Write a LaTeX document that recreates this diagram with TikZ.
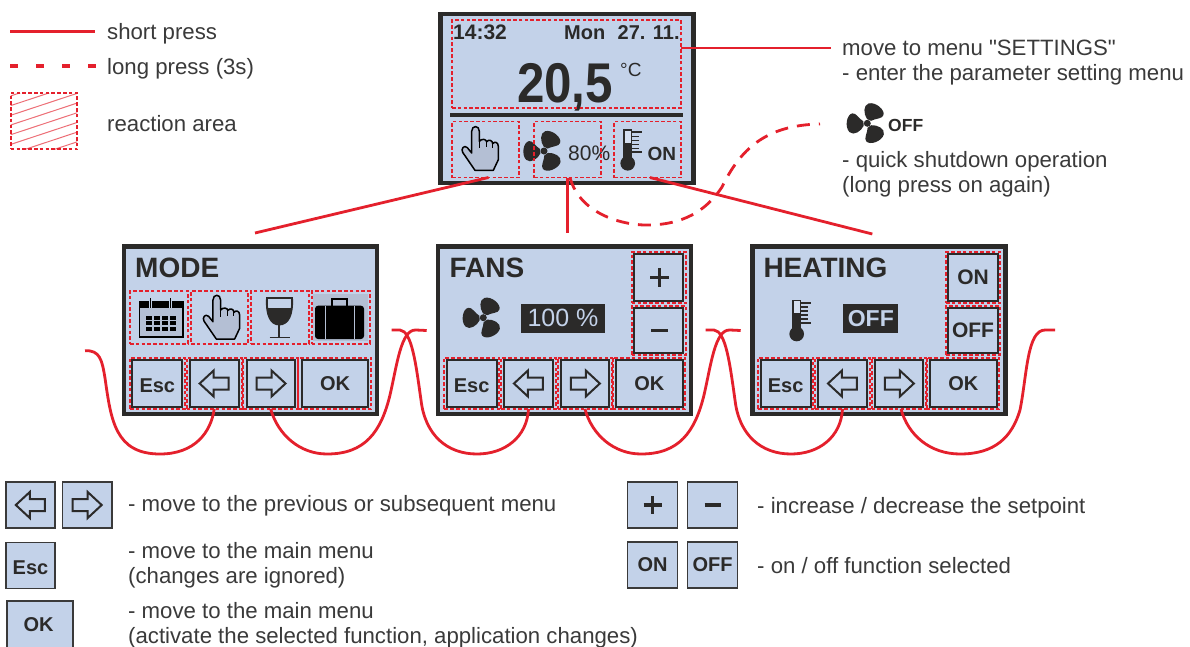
\documentclass[tikz,border=0pt]{standalone}
\usepackage{fontspec}
\setmainfont{Liberation Sans}[Ligatures=TeXOff]
\definecolor{scr}{HTML}{C3D2E9}
\definecolor{drk}{HTML}{2B2A29}
\definecolor{rd}{HTML}{E4202C}
\definecolor{txt}{HTML}{3A3A3A}
\definecolor{hnd}{HTML}{B4BFD4}
\newcommand\fsz[1]{\fontsize{#1}{#1}\selectfont}
\tikzset{
  screenbox/.style={draw=drk,fill=scr,line width=4.5pt,inner sep=0,outer sep=0},
  rarea/.style={draw=rd,line width=1.8pt,dash pattern=on 3.6pt off 2.2pt,inner sep=0,outer sep=0},
  btnbox/.style={draw=drk,fill=scr,line width=2pt,inner sep=0,outer sep=0,text=drk,font=\bfseries\fsz{20}},
  lgbtn/.style={draw=txt,fill=scr,line width=1.6pt,inner sep=0,outer sep=0,text=drk,font=\bfseries\fsz{20}},
  rline/.style={draw=rd,line width=2.8pt},
  rdash/.style={draw=rd,line width=2.8pt,dash pattern=on 13pt off 9pt},
  lbl/.style={anchor=base west,inner sep=0,text=txt,font=\fsz{22.2}},
  scrtxt/.style={anchor=base west,inner sep=0,text=drk,font=\bfseries\fsz{21}},
  title/.style={anchor=base west,inner sep=0,text=drk,font=\bfseries\fsz{28}},
  handicon/.pic={
    \draw[draw=black,fill=hnd,line width=1.5pt,line join=round,scale=.3333]
      (-15,64) -- (-52,10) .. controls (-58,0) and (-48,-14) .. (-38,-4) -- (-25,12) -- (-25,-53)
      .. controls (-25,-72) and (-2,-72) .. (-2,-53) -- (-2,-23)
      .. controls (5,-32) and (18,-30) .. (20,-22) .. controls (26,-30) and (38,-26) .. (38,-16)
      .. controls (44,-24) and (55,-20) .. (55,-8) -- (55,32) -- (40,64) -- cycle;
    \draw[black,line width=1pt,scale=.3333] (-2,-23) -- (-2,-3) (20,-22) -- (20,-6) (38,-16) -- (38,-4);
  },
  fanicon/.pic={
    \foreach \a in {0,120,240}{
      \fill[drk,rotate=\a,scale=.31] (-1,-14) .. controls (-12,-30) and (-14,-58) .. (4,-64)
        .. controls (26,-70) and (58,-44) .. (52,-26) .. controls (48,-14) and (26,-16) .. (12,-8) -- cycle;
    }
    \fill[drk] (0,0) circle (3.5pt);
  },
  thermoicon/.pic={
    \begin{scope}[scale=.3333]
    \fill[drk] (0,0) circle (22pt);
    \draw[drk,fill=scr!70!white,line width=1.5pt] (-11,-100) rectangle (12,-10);
    \fill[drk] (-11,-62) rectangle (12,0);
    \draw[drk,line width=2pt] (12,-93) -- (44,-93) (12,-33) -- (44,-33);
    \draw[drk,line width=1.6pt] (12,-81) -- (33,-81) (12,-69) -- (33,-69) (12,-57) -- (33,-57) (12,-45) -- (33,-45);
    \end{scope}
  },
  larrow/.pic={\draw[drk,line width=2pt,line join=miter] (-14.7,0) -- (-.7,-13) -- (-.7,-6) -- (14.3,-6) -- (14.3,6) -- (-.7,6) -- (-.7,13) -- cycle;},
  rarrow/.pic={\draw[drk,line width=2pt,line join=miter] (14.7,0) -- (.7,-13) -- (.7,-6) -- (-14.3,-6) -- (-14.3,6) -- (.7,6) -- (.7,13) -- cycle;},
}
% name x1 y1 x2 y2
\newcommand\rbox[5]{\node[rarea,minimum width={((#4)-(#2))*1pt},minimum height={((#5)-(#3))*1pt}] (#1) at ({((#2)+(#4))/2},{((#3)+(#5))/2}) {};}
% style name x1 y1 x2 y2 text
\newcommand\bbox[7][btnbox]{\node[#1,minimum width={((#5)-(#3))*1pt},minimum height={((#6)-(#4))*1pt}] (#2) at ({((#3)+(#5))/2},{((#4)+(#6))/2}) {#7};}
% nav row for a screen with left edge #1, name prefix #2
\newcommand\navrow[2]{%
  \rbox{#2dEsc}{#1+8.3}{357.7}{#1+63.3}{409}
  \rbox{#2dL}{#1+65}{357.7}{#1+120}{409}
  \rbox{#2dR}{#1+121.6}{357.7}{#1+176.3}{409}
  \rbox{#2dOK}{#1+176.6}{357.7}{#1+249.3}{409}
  \bbox{#2Esc}{#1+10.6}{360.3}{#1+60.6}{406.7}{}
  \bbox{#2L}{#1+68.3}{360.3}{#1+117}{406.7}{}
  \bbox{#2R}{#1+125}{360.3}{#1+173.3}{406.7}{}
  \bbox{#2OK}{#1+180}{360.3}{#1+246.6}{406.7}{}
  \node[inner sep=0,text=drk,font=\bfseries\fsz{20}] (#2Esct) at ({#1+35.6},386) {Esc};
  \node[inner sep=0,text=drk,font=\bfseries\fsz{20}] (#2OKt) at ({#1+213.3},384) {OK};
  \pic at (#2L) {larrow};
  \pic at (#2R) {rarrow};
}
\begin{document}
\begin{tikzpicture}[x=1pt,y=-1pt]
\useasboundingbox (0,0) rectangle (1190,646);
\clip (0,0) rectangle (1190,646);
\fill[white] (0,0) rectangle (1190,646);

% legend top-left
\coordinate (ls1) at (10,31); \coordinate (ls2) at (95,31);
\coordinate (ld1) at (10,66); \coordinate (ld2) at (96,66);
\draw[rline,line width=3pt] (ls1) -- (ls2);
\draw[draw=rd,line width=3.5pt,dash pattern=on 8pt off 18pt] (ld1) -- (ld2);
\node[lbl] (tshort) at (107,39.8) {short press};
\node[lbl] (tlong) at (107,74) {long press (3s)};
\node[lbl] (treact) at (107,131.7) {reaction area};
\begin{scope}
\clip (10.7,93.3) rectangle (77.3,149.3);
\foreach \k in {-2,...,5}{
  \draw[draw=rd!65!white,line width=1pt] (10.7,{93.3+9.7*\k+22}) -- (77.3,{93.3+9.7*\k});
}
\end{scope}
\rbox{lgarea}{10.7}{93.3}{77.3}{149.3}

% main screen
\node[screenbox,minimum width=253pt,minimum height=169pt] (main) at (567,98.5) {};
\node[scrtxt] (t1432) at (453,39.5) {14:32};
\node[scrtxt,font=\bfseries\fsz{20}] (tmon) at (564,39.5) {Mon};
\node[scrtxt,font=\bfseries\fsz{20}] (tdate) at (617.5,39.5) {27. 11.};
\node[scrtxt,font=\bfseries\fsz{56},xscale=.88,anchor=base] (ttemp) at (565,102) {20,5};
\node[scrtxt,font=\fsz{19}] (tdeg) at (620,76) {°C};
\coordinate (divL) at (450,115); \coordinate (divR) at (683,115);
\draw[drk,line width=4pt] (divL) -- (divR);
\rbox{topbox}{452}{20}{681}{108}
\pic at (480,149) {handicon};
\pic at (544,151) {fanicon};
\pic at (627.7,163.3) {thermoicon};
\node[scrtxt,font=\fsz{21}] (t80) at (568,160.5) {80\%};
\node[scrtxt,font=\bfseries\fsz{19}] (tmon2) at (647.5,160.5) {ON};
\rbox{handbox}{452}{121.5}{519}{177.5}
\rbox{fanbox}{534}{121.5}{601}{177.5}
\rbox{thermobox}{614}{121.5}{681}{177.5}

% MODE
\node[screenbox,minimum width=253pt,minimum height=167.5pt] (modes) at (250.4,330.3) {};
\node[title] (tmode) at (135,277.7) {MODE};
\navrow{121.7}{m}
\rbox{mcal}{130}{291}{188.3}{343.7}
\rbox{mhand}{191}{291}{248.3}{343.7}
\rbox{mwine}{251}{291}{309}{343.7}
\fill[hnd] (312.7,294.3) rectangle (368,341);
\rbox{mcase}{311.7}{291}{370}{343.7}
% calendar
\draw[black,fill=hnd,line width=1.6pt] (139.3,302) rectangle (182.7,336.7);
\fill[black] (139.3,302) rectangle (182.7,308);
\draw[scr,line width=3.4pt] (150.7,297) -- (150.7,308) (170.7,297) -- (170.7,308);
\draw[black,line width=1.3pt] (150.7,298) -- (150.7,307.5) (170.7,298) -- (170.7,307.5);
\foreach \c in {0,1,2,3}{\foreach \r in {0,1,2}{
  \fill[black] ({146+\c*8},{315.5+\r*5.5}) rectangle ({152+\c*8},{319.5+\r*5.5});
}}
\pic at (221.3,317.7) {handicon};
% wine
\fill[drk] (267.6,308) -- (291.6,308) .. controls (291.6,318) and (287,324.5) .. (279.3,324.5) .. controls (271.6,324.5) and (267.6,318) .. (267.6,308) -- cycle;
\draw[drk,line width=1.9pt] (267,298) -- (292,298) .. controls (293,315) and (288,324.5) .. (279.3,324.5) .. controls (270.6,324.5) and (266,315) .. (267,298) -- cycle;
\draw[drk,line width=1.9pt] (279.3,324.5) -- (279.3,337) (269.5,337.5) -- (289.5,337.5);
% briefcase
\draw[black,line width=2pt] (331.7,306.7) -- (331.7,299.3) -- (347.3,299.3) -- (347.3,306.7);
\fill[black,rounded corners=3pt] (315,305.7) rectangle (364,339);
\draw[hnd,line width=.9pt] (325,306) -- (325,339) (354.5,306) -- (354.5,339);

% FANS
\node[screenbox,minimum width=253pt,minimum height=167.5pt] (fans) at (564.6,330.3) {};
\node[title] (tfans) at (449.3,277.7) {FANS};
\navrow{436}{f}
\rbox{fdPlus}{631.7}{251.7}{685.7}{303.3}
\rbox{fdMinus}{631.7}{305.7}{685.7}{355}
\bbox{fPlus}{634}{254.3}{683.3}{300.7}{}
\bbox{fMinus}{634}{307.7}{683.3}{353.3}{}
\draw[drk,line width=3.4pt] (650,277.3) -- (668.6,277.3) (659.3,268) -- (659.3,286.6);
\draw[drk,line width=3.4pt] (651,330.7) -- (667.6,330.7);
\pic at (483.3,317.7) {fanicon};
\fill[drk] (521,304) rectangle (605,332.7);
\node[inner sep=0,text=scr,font=\fsz{25}] (t100) at (563,318.3) {100 \%};

% HEATING
\node[screenbox,minimum width=253pt,minimum height=167.5pt] (heat) at (878.8,330.3) {};
\node[title] (theat) at (763.3,277.7) {HEATING};
\navrow{750}{h}
\rbox{hdOn}{946}{251.7}{1000}{303.3}
\rbox{hdOff}{946}{305.7}{1000}{355}
\bbox{hOn}{948.3}{254.3}{997.7}{300.7}{\fsz{21}ON}
\bbox{hOff}{948.3}{307.7}{997.7}{353.3}{\fsz{21}OFF}
\pic at (796.7,334) {thermoicon};
\fill[drk] (843.3,304) rectangle (898.3,332.7);
\node[inner sep=0,text=scr,font=\bfseries\fsz{23}] (toff) at (870.8,318.3) {OFF};

% connectors to the main screen
\coordinate (settingsEnd) at (831,48);
\draw[rline] (topbox.east |- settingsEnd) -- (settingsEnd);
\coordinate (modeTop) at (255,233);
\coordinate (fansTop) at (567.5,233);
\coordinate (heatTop) at (872.3,234);
\draw[rline] ([xshift=3pt]handbox.south) -- (modeTop);
\draw[rline] (fanbox.south) -- (fansTop);
\draw[rline] ([xshift=2.5pt]thermobox.south) -- (heatTop);
\coordinate (dashEnd) at (820,124);
\draw[rdash] ([xshift=2.5pt]fanbox.south) .. controls (580,215) and (625,226) .. (650,225)
  .. controls (690,224) and (710,205) .. (722,187) .. controls (740,150) and (765,125) .. (dashEnd);

% loops
\coordinate (startL) at (85,350.7);
\coordinate (a1) at (426.7,330.5); \coordinate (b0) at (391.7,330);
\coordinate (a2) at (740.7,330.5); \coordinate (b1) at (705.7,330);
\coordinate (a3) at (1055,330);
\draw[rline] (startL) .. controls (100,350) and (102,360) .. (105,378)
  .. controls (111,420) and (115,454) .. (160,454) .. controls (195,454) and (211,432) .. (mdL.south);
\draw[rline] (mdR.south) .. controls (278,435) and (300,454) .. (327,454)
  .. controls (365,454) and (381,432) .. (390,395) .. controls (397,365) and (401,329) .. (416,330) -- (a1);
\draw[rline] (b0) -- (400,330) .. controls (412,331) and (416,365) .. (421,400)
  .. controls (425,435) and (447,454) .. (477,454) .. controls (505,454) and (527,437) .. (fdL.south);
\draw[rline] (fdR.south) .. controls (592,435) and (614,454) .. (641,454)
  .. controls (679,454) and (695,432) .. (704,395) .. controls (711,365) and (715,329) .. (730,330) -- (a2);
\draw[rline] (b1) -- (714,330) .. controls (726,331) and (730,365) .. (735,400)
  .. controls (739,435) and (761,454) .. (791,454) .. controls (819,454) and (841,437) .. (hdL.south);
\draw[rline] ([xshift=2pt]hdR.south) .. controls (908,435) and (930,454) .. (960,454)
  .. controls (995,454) and (1012,437) .. (1020,410) .. controls (1027,375) and (1027,330) .. (1045,330) -- (a3);

% texts right
\node[lbl] (tmove) at (842,55) {move to menu "SETTINGS"};
\node[lbl] (tenter) at (842,80) {- enter the parameter setting menu};
\pic at (867.3,123.3) {fanicon};
\node[scrtxt,font=\bfseries\fsz{17.5}] (toffl) at (888,131.5) {OFF};
\node[lbl] (tquick) at (842,167) {- quick shutdown operation};
\node[lbl] (tagain) at (842,192) {(long press on again)};

% bottom legend
\bbox[lgbtn]{lgL}{6}{482}{55}{528}{}
\bbox[lgbtn]{lgR}{62.3}{482}{111.7}{528}{}
\pic at (lgL) {larrow};
\pic at (lgR) {rarrow};
\bbox[lgbtn]{lgEsc}{6}{542.3}{55}{588.3}{}
\node[inner sep=0,text=drk,font=\bfseries\fsz{20}] (lgEsct) at (30.5,568) {Esc};
\bbox[lgbtn]{lgOK}{6.7}{601}{72.7}{650}{}
\node[inner sep=0,text=drk,font=\bfseries\fsz{20}] (lgOKt) at (38.5,625) {OK};
\node[lbl] (tb1) at (128,511.5) {- move to the previous or subsequent menu};
\node[lbl] (tb2) at (128,558) {- move to the main menu};
\node[lbl] (tb3) at (128,583) {(changes are ignored)};
\node[lbl] (tb4) at (128,618) {- move to the main menu};
\node[lbl] (tb5) at (128,643) {(activate the selected function, application changes)};
\bbox[lgbtn]{lgPlus}{627.5}{482}{677.5}{528}{}
\bbox[lgbtn]{lgMinus}{687.5}{482}{737.5}{528}{}
\draw[drk,line width=3.4pt] (643.5,505) -- (661.5,505) (652.5,496) -- (652.5,514);
\draw[drk,line width=3.4pt] (704.5,505) -- (720.5,505);
\bbox[lgbtn]{lgOn}{627.5}{542}{677.5}{588}{ON}
\bbox[lgbtn]{lgOff}{687.5}{542}{737.5}{588}{OFF}
\node[lbl] (tb6) at (757,513) {- increase / decrease the setpoint};
\node[lbl] (tb7) at (757,573) {- on / off function selected};
\end{tikzpicture}
\end{document}
